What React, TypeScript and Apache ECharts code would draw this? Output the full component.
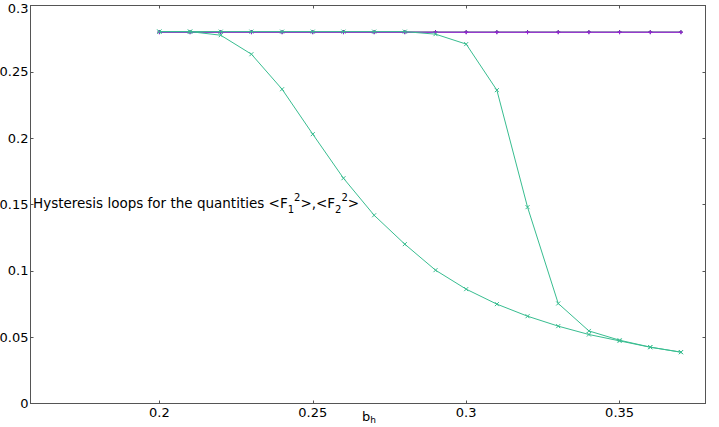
import React, { useEffect, useRef } from "react";
import * as echarts from "echarts";

const bValues = [0.2, 0.21, 0.22, 0.23, 0.24, 0.25, 0.26, 0.27, 0.28, 0.29, 0.3, 0.31, 0.32, 0.33, 0.34, 0.35, 0.36, 0.37];
// <F1^2> decreasing branch (lower)
const f1Lower = [0.2803, 0.2803, 0.2776, 0.2633, 0.2369, 0.203, 0.1698, 0.1419, 0.1201, 0.1005, 0.0862, 0.0749, 0.0658, 0.0583, 0.052, 0.0472, 0.0424, 0.0387];
// <F1^2> upper branch
const f1Upper = [0.2803, 0.2803, 0.2803, 0.2803, 0.2803, 0.2803, 0.2803, 0.2803, 0.2803, 0.2784, 0.2709, 0.2362, 0.148, 0.0754, 0.0547, 0.0477, 0.0425, 0.0387];
// <F2^2> branches
const f2Forward = [0.28, 0.28, 0.28, 0.28, 0.28, 0.28, 0.28, 0.28, 0.28, 0.28, 0.28, 0.28, 0.28, 0.28, 0.28, 0.28, 0.28, 0.28];
const f2Backward = [0.2798, 0.2798, 0.2798, 0.2798, 0.2798, 0.2798, 0.2798, 0.2798, 0.2798, 0.2798, 0.2798, 0.2798, 0.2798, 0.2798, 0.2798, 0.2798, 0.2798, 0.2798];

const xTicks = [0.2, 0.25, 0.3, 0.35];
const xMin = 0.158;
const xMax = 0.378;
const yMin = 0;
const yMax = 0.3;
const yStep = 0.05;

const FONT = "DejaVu Sans";
const TEAL = "#38bd90";
const PURPLE = "#9a22d8";
const DARK = "#24405e";
const AXIS = "#555555";

const crossSym = "path://M0,0L10,10M10,0L0,10";
const plusSym = "path://M5,0L5,10M0,5L10,5";

function pairs(ys: number[]) {
  return bValues.map((x, i) => [x, ys[i]]);
}

function lineSeries(name: string, ys: number[], color: string, sym: string, z: number) {
  return {
    name,
    type: "line",
    data: pairs(ys),
    z,
    symbol: sym,
    symbolSize: 4,
    showSymbol: true,
    lineStyle: { color, width: 1 },
    itemStyle: { color: "none", borderColor: color, borderWidth: 1 },
    emphasis: { disabled: true },
  };
}

export default function App() {
  const ref = useRef<HTMLDivElement>(null);
  useEffect(() => {
    if (!ref.current) return;
    const chart = echarts.init(ref.current, undefined, { renderer: "svg" });
    chart.setOption({
      animation: false,
      backgroundColor: "#ffffff",
      grid: { left: 30.5, right: 13.5, top: 5.5, bottom: 23.5, containLabel: false, outerBoundsMode: "none" },
      xAxis: [
        {
          type: "value",
          position: "bottom",
          min: xMin,
          max: xMax,
          axisLine: { show: true, onZero: false, lineStyle: { color: AXIS, width: 1 } },
          axisTick: { show: true, inside: true, length: 3, customValues: xTicks, lineStyle: { color: AXIS } },
          axisLabel: { show: true, customValues: xTicks, margin: 2, fontFamily: FONT, fontSize: 13, color: "#000" },
          splitLine: { show: false },
        },
        {
          type: "value",
          position: "top",
          min: xMin,
          max: xMax,
          axisLine: { show: true, onZero: false, lineStyle: { color: AXIS, width: 1 } },
          axisTick: { show: true, inside: true, length: 3, customValues: xTicks, lineStyle: { color: AXIS } },
          axisLabel: { show: false },
          splitLine: { show: false },
        },
      ],
      yAxis: [
        {
          type: "value",
          position: "left",
          min: yMin,
          max: yMax,
          interval: yStep,
          axisLine: { show: true, onZero: false, lineStyle: { color: AXIS, width: 1 } },
          axisTick: { show: true, inside: true, length: 3, lineStyle: { color: AXIS } },
          axisLabel: {
            show: true,
            margin: 2,
            fontFamily: FONT,
            fontSize: 13,
            color: "#000",
            formatter: (v: number) => (v >= yMax - 1e-9 ? "{t|" + v + "}" : String(v)),
            rich: { t: { fontFamily: FONT, fontSize: 13, color: "#000", padding: [6, 0, 0, 0] } },
          },
          splitLine: { show: false },
        },
        {
          type: "value",
          position: "right",
          min: yMin,
          max: yMax,
          interval: yStep,
          axisLine: { show: true, onZero: false, lineStyle: { color: AXIS, width: 1 } },
          axisTick: { show: true, inside: true, length: 3, lineStyle: { color: AXIS } },
          axisLabel: { show: false },
          splitLine: { show: false },
        },
      ],
      series: [
        lineSeries("<F2^2> forward", f2Forward, DARK, plusSym, 2),
        lineSeries("<F2^2> backward", f2Backward, PURPLE, plusSym, 3),
        lineSeries("<F1^2> upper", f1Upper, TEAL, crossSym, 4),
        lineSeries("<F1^2> lower", f1Lower, TEAL, crossSym, 5),
      ],
      graphic: [
        {
          type: "text",
          left: 33,
          top: 192,
          z: 10,
          style: {
            text: "{m|Hysteresis loops for the quantities <F}{s|1}{p|2}{m|>,<F}{s|2}{p|2}{m|>}",
            rich: {
              m: { fontFamily: FONT, fontSize: 13.5, fill: "#000", lineHeight: 22, verticalAlign: "middle" },
              s: { fontFamily: FONT, fontSize: 10, fill: "#000", lineHeight: 11, verticalAlign: "bottom" },
              p: { fontFamily: FONT, fontSize: 10, fill: "#000", lineHeight: 11, verticalAlign: "top" },
            },
          },
        },
        {
          type: "text",
          left: 362,
          top: 410,
          z: 10,
          style: {
            text: "{b|b}{h|h}",
            rich: {
              b: { fontFamily: FONT, fontSize: 13, fill: "#000", lineHeight: 15, verticalAlign: "middle" },
              h: { fontFamily: FONT, fontSize: 9, fill: "#000", lineHeight: 8, verticalAlign: "bottom" },
            },
          },
        },
      ],
    });
    return () => chart.dispose();
  }, []);
  return <div ref={ref} style={{ width: 719, height: 427, position: "absolute", left: 0, top: 0 }} />;
}
